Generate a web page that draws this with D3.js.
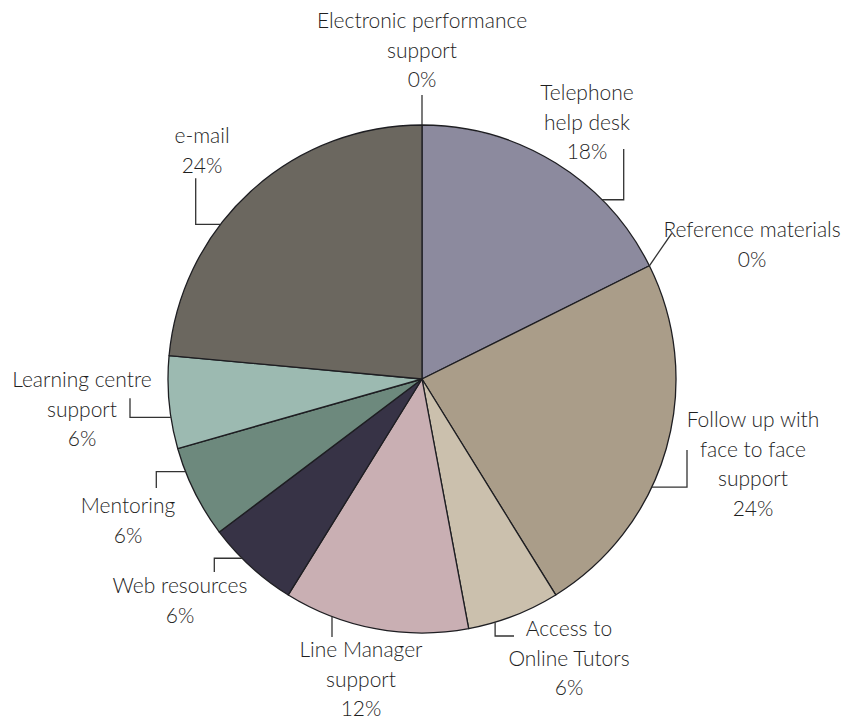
<!DOCTYPE html>
<html>
<head>
<meta charset="utf-8">
<script src="https://cdn.jsdelivr.net/npm/d3@7/dist/d3.min.js"></script>
<style>
  html, body { margin: 0; padding: 0; background: #fff; }
  svg { display: block; }
  text { font-family: Lato, "Open Sans", sans-serif; font-weight: 300; font-size: 21px; fill: #1f1f1f; }
</style>
</head>
<body>
<svg id="chart" width="843" height="720"></svg>
<script>
// Number of responses per support type (clockwise from 12 o'clock)
const categories = [
  "Electronic performance support",
  "Telephone help desk",
  "Reference materials",
  "Follow up with face to face support",
  "Access to Online Tutors",
  "Line Manager support",
  "Web resources",
  "Mentoring",
  "Learning centre support",
  "e-mail"
];
const responses = [0, 3, 0, 4, 1, 2, 1, 1, 1, 4];

// Label lines as they wrap on the page
const labelLines = [
  ["Electronic performance", "support"],
  ["Telephone", "help desk"],
  ["Reference materials"],
  ["Follow up with", "face to face", "support"],
  ["Access to", "Online Tutors"],
  ["Line Manager", "support"],
  ["Web resources"],
  ["Mentoring"],
  ["Learning centre", "support"],
  ["e-mail"]
];

const sliceColors = [
  "#6b675f", "#8c8a9e", "#aa9d89", "#aa9d89", "#cbc0ad",
  "#c9afb3", "#373346", "#6d897d", "#9cbab1", "#6b675f"
];

// Callout layout: where the leader leaves the slice (fraction of its arc),
// the leader's steps (relative to the pie centre) and the text anchor.
const callouts = [
  { frac: 0,    steps: [["v", -284]],               tx: 0,    ty: -351 },
  { frac: 0.71, steps: [["h", 201.7], ["v", -230]], tx: 165,  ty: -279 },
  { frac: 0,    steps: [["l", 249.7, -145.7]],      tx: 330,  ty: -142 },
  { frac: 0.61, steps: [["h", 265], ["v", 71]],     tx: 331,  ty: 48 },
  { frac: 0.71, steps: [["v", 257], ["h", 92]],     tx: 147,  ty: 257 },
  { frac: 0.74, steps: [["v", 258]],                tx: -61,  ty: 278 },
  { frac: 0.63, steps: [["h", -207.7], ["v", 193]], tx: -242, ty: 214 },
  { frac: 0.74, steps: [["h", -265.7], ["v", 109]], tx: -294, ty: 134 },
  { frac: 0.34, steps: [["h", -292], ["v", 19.3]],  tx: -340, ty: 8 },
  { frac: 0.38, steps: [["h", -226.3], ["v", -200.7]], tx: -220, ty: -236 }
];

const cx = 422, cy = 379, radius = 254, lineHeight = 29.5;
const total = d3.sum(responses);

const svg = d3.select("#chart");
const g = svg.append("g").attr("transform", `translate(${cx},${cy})`);

const pie = d3.pie().sort(null).value(d => d.value)
  .startAngle(0).endAngle(2 * Math.PI);
const arc = d3.arc().innerRadius(0).outerRadius(radius);

const data = categories.map((name, i) => ({
  name, value: responses[i], lines: labelLines[i],
  color: sliceColors[i], callout: callouts[i]
}));
const arcs = pie(data);

g.selectAll("path.slice")
  .data(arcs.filter(d => d.value > 0))
  .join("path")
  .attr("class", "slice")
  .attr("d", arc)
  .attr("fill", d => d.data.color)
  .attr("stroke", "#1e1e22")
  .attr("stroke-width", 1.3)
  .attr("stroke-linejoin", "round");

// Leader lines
arcs.forEach(d => {
  const c = d.data.callout;
  const a = d.startAngle + (d.endAngle - d.startAngle) * c.frac;
  let x = radius * Math.sin(a), y = -radius * Math.cos(a);
  const pts = [[x, y]];
  c.steps.forEach(s => {
    if (s[0] === "h") x = s[1];
    else if (s[0] === "v") y = s[1];
    else { x = s[1]; y = s[2]; }
    pts.push([x, y]);
  });
  g.append("path")
    .attr("d", d3.line()(pts))
    .attr("fill", "none")
    .attr("stroke", "#333")
    .attr("stroke-width", 1.3);
});

// Labels with rounded percentage
arcs.forEach(d => {
  const c = d.data.callout;
  const pct = Math.round(d.data.value / total * 100) + "%";
  const lines = d.data.lines.concat([pct]);
  const t = g.append("text").attr("text-anchor", "middle");
  lines.forEach((ln, i) => {
    t.append("tspan").attr("x", c.tx).attr("y", c.ty + i * lineHeight).text(ln);
  });
});
</script>
</body>
</html>
